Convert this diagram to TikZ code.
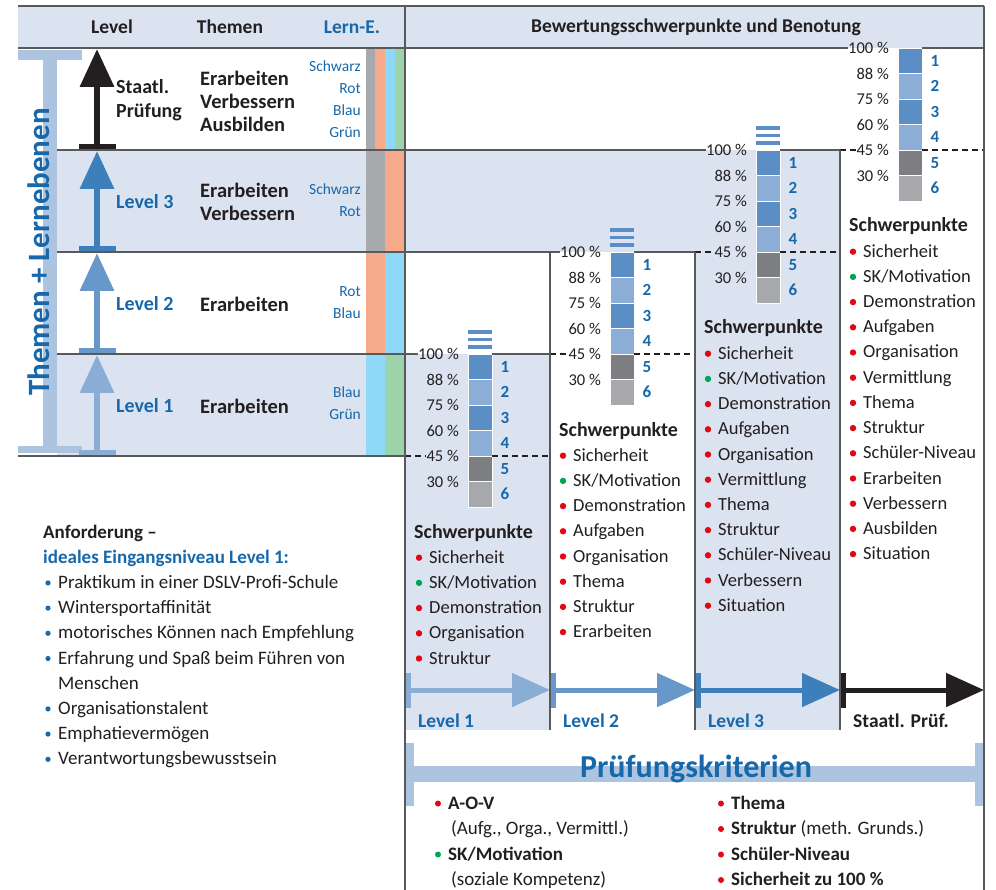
\documentclass[tikz,border=0pt]{standalone}
\usepackage{fontspec}
\setmainfont{Carlito}
\usepackage{tikz}
\usetikzlibrary{arrows.meta}

\definecolor{bandblue}{RGB}{219,227,240}
\definecolor{barblue}{RGB}{173,196,224}
\definecolor{txtblue}{RGB}{22,104,171}
\definecolor{txtdark}{RGB}{35,31,32}
\definecolor{rulegray}{RGB}{88,89,91}
\definecolor{lvone}{RGB}{138,173,213}
\definecolor{lvtwo}{RGB}{104,152,202}
\definecolor{lvthree}{RGB}{60,127,187}
\definecolor{gdark}{RGB}{91,142,196}
\definecolor{glight}{RGB}{139,173,214}
\definecolor{ggray}{RGB}{125,126,129}
\definecolor{glgray}{RGB}{167,168,171}
\definecolor{dotred}{RGB}{227,6,19}
\definecolor{dotgreen}{RGB}{0,166,81}
\definecolor{lgray}{RGB}{167,169,172}
\definecolor{lred}{RGB}{247,169,139}
\definecolor{lblue}{RGB}{142,216,248}
\definecolor{lgreen}{RGB}{156,211,170}

\begin{document}
\begin{tikzpicture}[x=1pt,y=-1pt,
		every node/.style={text=txtdark,inner sep=0pt},
		hdr/.style={font=\bfseries\fontsize{19.5}{22}\selectfont},
		lvl/.style={font=\bfseries\fontsize{20}{24}\selectfont,text=txtblue,anchor=west},
		thm/.style={font=\bfseries\fontsize{20.5}{23}\selectfont,align=left,anchor=west},
		lern/.style={font=\fontsize{15.5}{22}\selectfont,text=txtblue,align=right,anchor=east},
		pct/.style={font=\fontsize{16.5}{18}\selectfont,anchor=east},
		grd/.style={font=\bfseries\fontsize{17}{18}\selectfont,text=txtblue},
		sphead/.style={font=\bfseries\fontsize{20}{22}\selectfont,anchor=base west},
		spitem/.style={font=\fontsize{18.5}{22}\selectfont,anchor=base west},
		crit/.style={font=\fontsize{19}{22}\selectfont,anchor=base west},
		trule/.style={rulegray,line width=1.3pt},
		dashfive/.style={txtdark,line width=1.2pt,dash pattern=on 6pt off 4pt},
		]
		\useasboundingbox (0,0) rectangle (996,890);
		
		% background bands and columns
		\fill[bandblue] (18,6) rectangle (984,48);
		\fill[bandblue] (57,150) rectangle (840,252);
		\fill[bandblue] (695,150) rectangle (840,730);
		\fill[bandblue] (57,354) rectangle (550,456);
		\fill[bandblue] (405,354) rectangle (550,730);
		
		% Lern-E colour strips
		\foreach \xa/\xb/\ya/\c in {366/375/48/lgray, 375/385/48/lred, 385/395/48/lblue, 395/405/48/lgreen,
			366/385/150/lgray, 385/405/150/lred, 366/385/252/lred, 385/405/252/lblue,
			366/385/354/lblue, 385/405/354/lgreen}
		\fill[\c] (\xa,\ya) rectangle (\xb,\ya+102);
		
		% bracket Themen + Lernebenen
		\fill[barblue] (18,50) rectangle (82,60);
		\fill[barblue] (43,60) rectangle (57,446);
		\fill[barblue] (18,446) rectangle (82,453);
		\node[rotate=90,font=\bfseries\fontsize{31}{34}\selectfont,text=txtblue] (themen) at (38.5,252) {Themen + Lernebenen};
		
		% level arrows (left)
		\foreach \yb/\yt/\c in {150/49/txtdark, 252/151/lvthree, 354/253/lvtwo, 456/355/lvone}{
			\fill[\c] (79,\yb-6) rectangle (116,\yb);
			\draw[\c,line width=6.5pt,-{Triangle[width=33pt,length=38pt]}] (97,\yb-6) -- (97,\yt);
		}
		
		% header
		\node[hdr] (h-level) at (112,27) {Level};
		\node[hdr] (h-themen) at (230,27) {Themen};
		\node[hdr,text=txtblue] (h-lern) at (352,27) {Lern-E.};
		\node[hdr] (h-bew) at (696,27) {Bewertungsschwerpunkte und Benotung};
		
		% table rows
		\node[lvl,text=txtdark,align=left] (l-st) at (116,100) {Staatl.\\Prüfung};
		\node[lvl] (l-3) at (116,202) {Level 3};
		\node[lvl] (l-2) at (116,304) {Level 2};
		\node[lvl] (l-1) at (116,406) {Level 1};
		\node[thm] (t-st) at (200,101) {Erarbeiten\\Verbessern\\Ausbilden};
		\node[thm] (t-3) at (200,201.5) {Erarbeiten\\Verbessern};
		\node[thm] (t-2) at (200,304) {Erarbeiten};
		\node[thm] (t-1) at (200,406) {Erarbeiten};
		\node[lern] (e-st) at (361,99) {Schwarz\\Rot\\Blau\\Grün};
		\node[lern] (e-3) at (361,200) {Schwarz\\Rot};
		\node[lern] (e-2) at (361,303) {Rot\\Blau};
		\node[lern] (e-1) at (361,403) {Blau\\Grün};
		
		% grade stacks
		\foreach \sx/\sy/\nm in {468/354/a, 610/252/b, 756/150/c, 898/48/d}{
			\foreach \g/\gc/\p in {1/gdark/100, 2/glight/88, 3/gdark/75, 4/glight/60, 5/ggray/45, 6/glgray/30}{
				\fill[\gc,draw=white,line width=0.6pt] (\sx,\sy+25.5*\g-25.5) rectangle (\sx+24,\sy+25.5*\g);
				\node[pct] (pc-\nm-\g) at (\sx-9,\sy+25.5*\g-25.5) {\p~\%};
				\node[grd] (gr-\nm-\g) at (\sx+37,\sy+25.5*\g-12.75) {\g};
			}
		}
		\foreach \sx/\sy in {468/354, 610/252, 756/150}
		\foreach \d in {24,16.3,8.6}
		\fill[gdark] (\sx,\sy-\d) rectangle (\sx+24,\sy-\d+3.7);
		
		% rules and 45 % lines
		\draw[trule] (18,6) -- (984,6);
		\draw[trule] (18,48) -- (pc-d-1.west) (922,48) -- (984,48);
		\draw[trule] (57,150) -- (pc-c-1.west) (780,150) -- (840,150);
		\draw[trule] (57,252) -- (pc-b-1.west) (634,252) -- (695,252);
		\draw[trule] (57,354) -- (pc-a-1.west) (492,354) -- (550,354);
		\draw[trule,line width=1.8pt] (18,456) -- (405,456);
		\draw[dashfive] (840,150) -- (pc-d-5.west) (922,150) -- (984,150);
		\draw[dashfive] (695,252) -- (pc-c-5.west) (780,252) -- (840,252);
		\draw[dashfive] (550,354) -- (pc-b-5.west) (634,354) -- (695,354);
		\draw[dashfive] (405,456) -- (pc-a-5.west) (492,456) -- (550,456);
		
		% Schwerpunkte
		\node[sphead] (sp-a) at (414,538) {Schwerpunkte};
		\foreach \c/\t [count=\i] in {dotred/Sicherheit, dotgreen/{SK/Motivation}, dotred/Demonstration,
			dotred/Organisation, dotred/Struktur}{
			\fill[\c] (419,538+25.2*\i-5.5) circle (3.2);
			\node[spitem] (sp-a-\i) at (429,538+25.2*\i) {\t};
		}
		\node[sphead] (sp-b) at (559,436) {Schwerpunkte};
		\foreach \c/\t [count=\i] in {dotred/Sicherheit, dotgreen/{SK/Motivation}, dotred/Demonstration,
			dotred/Aufgaben, dotred/Organisation, dotred/Thema, dotred/Struktur, dotred/Erarbeiten}{
			\fill[\c] (563,436+25.2*\i-5.5) circle (3.2);
			\node[spitem] (sp-b-\i) at (573,436+25.2*\i) {\t};
		}
		\node[sphead] (sp-c) at (704,334) {Schwerpunkte};
		\foreach \c/\t [count=\i] in {dotred/Sicherheit, dotgreen/{SK/Motivation}, dotred/Demonstration,
			dotred/Aufgaben, dotred/Organisation, dotred/Vermittlung, dotred/Thema, dotred/Struktur,
			dotred/Schüler-Niveau, dotred/Verbessern, dotred/Situation}{
			\fill[\c] (708,334+25.2*\i-5.5) circle (3.2);
			\node[spitem] (sp-c-\i) at (718,334+25.2*\i) {\t};
		}
		\node[sphead] (sp-d) at (849,232) {Schwerpunkte};
		\foreach \c/\t [count=\i] in {dotred/Sicherheit, dotgreen/{SK/Motivation}, dotred/Demonstration,
			dotred/Aufgaben, dotred/Organisation, dotred/Vermittlung, dotred/Thema, dotred/Struktur,
			dotred/Schüler-Niveau, dotred/Erarbeiten, dotred/Verbessern, dotred/Ausbilden, dotred/Situation}{
			\fill[\c] (853,232+25.2*\i-5.5) circle (3.2);
			\node[spitem] (sp-d-\i) at (863,232+25.2*\i) {\t};
		}
		
		% level arrows (bottom)
		\foreach \xa/\xb/\c/\tc/\t in {405/550/lvone/txtblue/Level 1, 550/695/lvtwo/txtblue/Level 2,
			695/840/lvthree/txtblue/Level 3, 840/984/txtdark/txtdark/Staatl. Prüf.}{
			\fill[\c] (\xa,673) rectangle (\xa+6,708);
			\draw[\c,line width=5pt,-{Triangle[width=33pt,length=38pt]}] (\xa+3,690) -- (\xb,690);
			\node[font=\bfseries\fontsize{19.5}{22}\selectfont,text=\tc,anchor=base west] (b-\xa) at (\xa+13,727) {\t};
		}
		
		% Anforderung
		\node[crit,font=\bfseries\fontsize{19}{22}\selectfont] (anf) at (43,538) {Anforderung –};
		\node[crit,font=\bfseries\fontsize{19}{22}\selectfont,text=txtblue] (anf-l1) at (43,563.2) {ideales Eingangsniveau Level 1:};
		\foreach \n/\t in {1/Praktikum in einer DSLV-Profi-Schule, 2/Wintersportaffinität,
			3/motorisches Können nach Empfehlung, 4/Erfahrung und Spaß beim Führen von,
			6/Organisationstalent, 7/Emphatievermögen, 8/Verantwortungsbewusstsein}{
			\fill[txtblue] (48,563.2+25.2*\n-5.5) circle (2.6);
			\node[crit] (anf-\n) at (58,563.2+25.2*\n) {\t};
		}
		\node[crit] (anf-5) at (58,689.2) {Menschen};
		
		% Pruefungskriterien
		\fill[barblue] (405,743) rectangle (414,806);
		\fill[barblue] (975,743) rectangle (984,806);
		\fill[barblue] (405,766) rectangle (984,782);
		\node[font=\bfseries\fontsize{32}{34}\selectfont,text=txtblue,anchor=base] (pk) at (696,777) {Prüfungskriterien};
		\fill[dotred] (438,803.5) circle (3);
		\node[crit,font=\bfseries\fontsize{19}{22}\selectfont] (k-aov) at (448,809) {A-O-V};
		\node[crit] (k-aov-s) at (451,834.5) {(Aufg., Orga., Vermittl.)};
		\fill[dotgreen] (438,854.5) circle (3);
		\node[crit,font=\bfseries\fontsize{19}{22}\selectfont] (k-sk) at (448,860) {SK/Motivation};
		\node[crit] (k-sk-s) at (451,885.5) {(soziale Kompetenz)};
		\foreach \n/\t in {0/\textbf{Thema}, 1/\textbf{Struktur} (meth. Grunds.), 2/\textbf{Schüler-Niveau}, 3/\textbf{Sicherheit zu 100~\%}}{
			\fill[dotred] (721,803.5+25.5*\n) circle (3);
			\node[crit] (k-r\n) at (731,809+25.5*\n) {\t};
		}
		
		% column borders
		\draw[trule] (405,6) -- (405,890);
		\draw[trule] (984,6) -- (984,890);
		\draw[trule] (550,252) -- (550,730);
		\draw[trule] (695,252) -- (695,730);
		\draw[trule] (840,150) -- (840,730);
	\end{tikzpicture}
\end{document}
